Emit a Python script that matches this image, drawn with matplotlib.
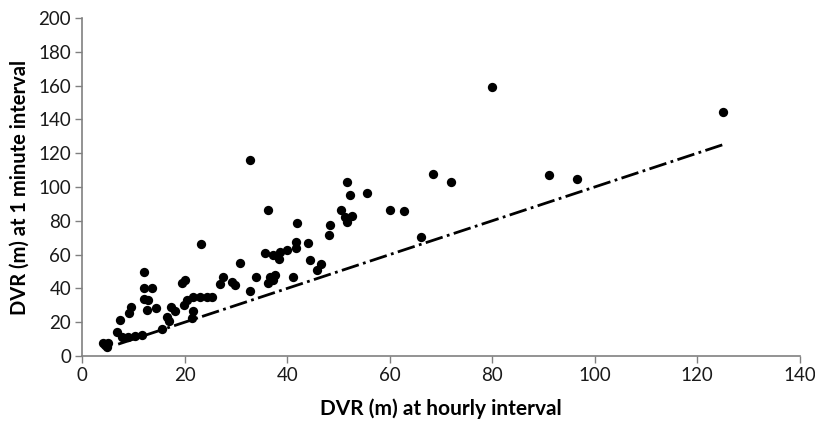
import numpy as np
import matplotlib
matplotlib.use("Agg")
import matplotlib.pyplot as plt

plt.rcParams['font.family'] = ['Lato', 'DejaVu Sans']

# DVR (m) at hourly interval vs DVR (m) at 1 minute interval
dvr_hourly = [4.1, 4.8, 5.1, 4.4, 6.7, 7.7, 9.0, 10.3, 11.6, 7.4,
              9.2, 9.6, 12.0, 12.0, 13.7, 12.0, 12.9, 12.6, 14.4, 15.5,
              16.6, 17.0, 17.4, 18.1, 19.4, 20.1, 19.8, 20.4, 21.7, 23.0,
              24.3, 25.3, 21.7, 21.4, 23.1, 26.9, 27.5, 29.2, 29.9, 30.8,
              32.7, 32.7, 33.9, 35.7, 36.3, 36.7, 37.6, 37.3, 36.3, 37.3,
              38.3, 38.6, 40.0, 41.2, 41.8, 41.8, 42.0, 44.1, 44.5, 45.8,
              46.6, 48.2, 48.4, 50.5, 51.3, 51.7, 52.7, 51.6, 52.3, 55.5,
              60.0, 62.7, 66.1, 68.5, 72.0, 80.0, 91.1, 96.5, 125.0]
dvr_minute = [7.9, 5.5, 7.5, 6.5, 14.4, 11.4, 11.0, 11.8, 12.4, 21.3,
              25.6, 29.0, 49.5, 40.0, 40.0, 34.0, 33.0, 27.0, 28.5, 15.8,
              23.0, 21.0, 29.0, 26.5, 43.0, 45.0, 30.0, 33.0, 35.0, 35.0,
              35.0, 35.0, 26.8, 22.3, 66.0, 42.5, 46.9, 44.0, 42.0, 54.9,
              38.6, 116.0, 46.6, 60.8, 43.0, 47.0, 48.0, 45.0, 86.4, 59.5,
              57.2, 61.7, 62.7, 47.0, 67.6, 63.7, 78.9, 66.7, 56.8, 50.9,
              54.3, 71.8, 77.7, 86.6, 82.1, 79.1, 83.0, 103.1, 95.3, 96.4,
              86.2, 86.0, 70.3, 107.5, 102.8, 159.0, 106.9, 104.7, 144.5]

# 1:1 reference line
line_x = [7, 125]
line_y = [7, 125]

fig = plt.figure(figsize=(8.15, 4.23), dpi=100)
ax = fig.add_axes([0.101, 0.1584, 0.880, 0.799])

ax.scatter(dvr_hourly, dvr_minute, s=45, color='black', zorder=3, linewidths=0)
ax.plot(line_x, line_y, color='black', linestyle='-.', linewidth=2, zorder=2)

ax.set_xlim(0, 140)
ax.set_ylim(0, 200)
ax.set_xticks(np.arange(0, 141, 20))
ax.set_yticks(np.arange(0, 201, 20))

for side in ['top', 'right']:
    ax.spines[side].set_visible(False)
for side in ['left', 'bottom']:
    ax.spines[side].set_color('#808080')
    ax.spines[side].set_linewidth(1.2)

ax.tick_params(axis='both', direction='out', length=5, width=1, color='#808080',
               labelsize=13.5, labelcolor='#1a1a1a', pad=3)

ax.set_xlabel("DVR (m) at hourly interval", fontsize=15, fontweight='bold', labelpad=10)
ax.set_ylabel("DVR (m) at 1 minute interval", fontsize=14.5, fontweight='bold', labelpad=6)

fig.savefig("out.png", dpi=100)
